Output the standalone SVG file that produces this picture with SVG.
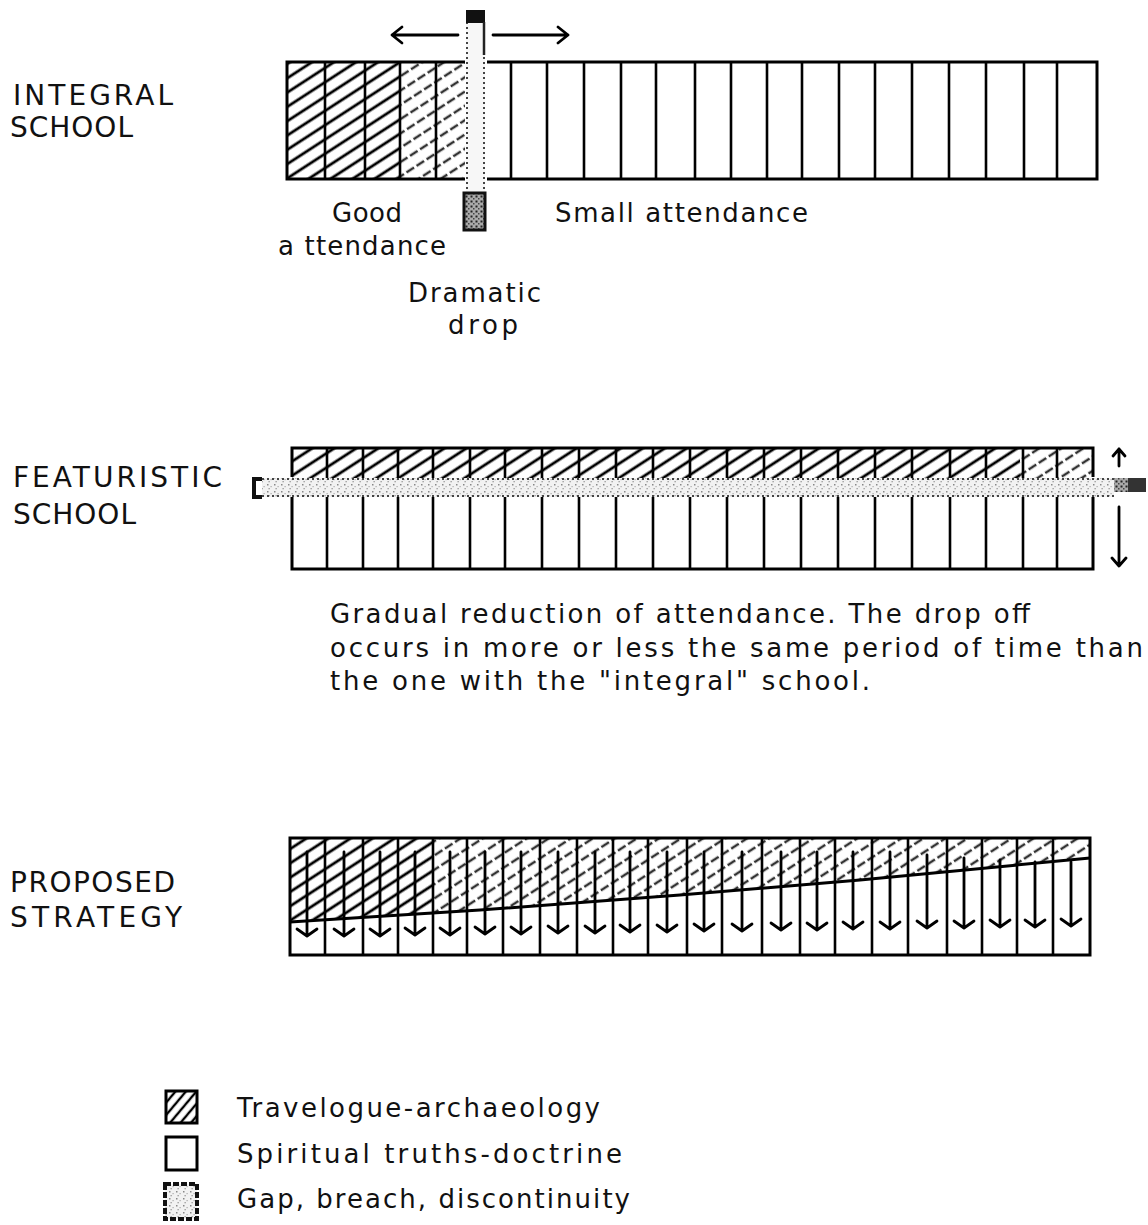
<svg xmlns="http://www.w3.org/2000/svg" width="1148" height="1225" viewBox="0 0 1148 1225">
<defs>
<style>
text{font-family:"DejaVu Sans","Liberation Sans",sans-serif;fill:#111;}
.lbl{font-size:28px;}
.txt{font-size:26px;}
.frame{fill:none;stroke:#000;stroke-width:3;}
.div{stroke:#000;stroke-width:2.6;fill:none;}
.dot{stroke:#444;stroke-width:2;stroke-dasharray:2 3;fill:none;}
.arr{stroke:#000;stroke-width:2.8;fill:none;stroke-linecap:round;stroke-linejoin:round;}
</style>
<pattern id="hatch" patternUnits="userSpaceOnUse" width="12" height="12" patternTransform="rotate(-33)">
<line x1="-1" y1="6" x2="13" y2="6" stroke="#000" stroke-width="2.8"/>
</pattern>
<pattern id="hatchFaint" patternUnits="userSpaceOnUse" width="12" height="12" patternTransform="rotate(-33)">
<line x1="-1" y1="6" x2="13" y2="6" stroke="#333" stroke-width="2.4" stroke-dasharray="5 3"/>
</pattern>
<pattern id="hatchLegend" patternUnits="userSpaceOnUse" width="8" height="8" patternTransform="rotate(-50)">
<line x1="-1" y1="4" x2="9" y2="4" stroke="#000" stroke-width="2.4"/>
</pattern>
<pattern id="speckle" patternUnits="userSpaceOnUse" width="7" height="7">
<rect width="7" height="7" fill="#f2f2f2"/>
<rect x="1" y="1" width="1.5" height="1.5" fill="#888"/>
<rect x="4.5" y="3" width="1.2" height="1.2" fill="#aaa"/>
<rect x="2.5" y="5" width="1.3" height="1.3" fill="#999"/>
</pattern>
<pattern id="speckleDark" patternUnits="userSpaceOnUse" width="5" height="5">
<rect width="5" height="5" fill="#aaa"/>
<rect x="0.5" y="0.5" width="2" height="2" fill="#222"/>
<rect x="3" y="3" width="1.5" height="1.5" fill="#444"/>
</pattern>
</defs>

<!-- INTEGRAL SCHOOL -->
<g id="integral-school">
<text class="lbl" x="13" y="105" textLength="160" lengthAdjust="spacing">INTEGRAL</text>
<text class="lbl" x="10" y="137" textLength="123" lengthAdjust="spacing">SCHOOL</text>
<rect x="287" y="62" width="113" height="117" fill="url(#hatch)"/>
<rect x="400" y="62" width="65" height="117" fill="url(#hatchFaint)"/>
<path class="frame" d="M465,62 H287 V179 H465 M487,62 H1097 V179 H487"/>
<path class="div" d="M325,62V179 M365,62V179 M400,62V179 M436,62V179 M511,62V179 M547,62V179 M584,62V179 M621,62V179 M656,62V179 M695,62V179 M731,62V179 M767,62V179 M802,62V179 M839,62V179 M875,62V179 M912,62V179 M949,62V179 M986,62V179 M1024,62V179 M1057,62V179"/>
<text class="txt" x="332" y="222" textLength="70" lengthAdjust="spacing">Good</text>
<text class="txt" x="278" y="255" textLength="168" lengthAdjust="spacing">a ttendance</text>
<text class="txt" x="555" y="222" textLength="253" lengthAdjust="spacing">Small attendance</text>
<text class="txt" x="408" y="302" textLength="133" lengthAdjust="spacing">Dramatic</text>
<text class="txt" x="448" y="334" textLength="70" lengthAdjust="spacing">drop</text>
</g>

<!-- Gap bar of integral school -->
<g id="integral-gap">
<rect x="466" y="12" width="19" height="216" fill="#f7f7f7"/>
<path class="dot" d="M467,22V200 M484,22V200"/>
<rect x="466" y="10" width="19" height="13" fill="#111"/>
<path d="M484,22V55" stroke="#222" stroke-width="2.5"/>
<rect x="464" y="193" width="21" height="37" fill="url(#speckleDark)" stroke="#111" stroke-width="3"/>
</g>

<!-- FEATURISTIC SCHOOL -->
<g id="featuristic-school">
<text class="lbl" x="13" y="487" textLength="209" lengthAdjust="spacing">FEATURISTIC</text>
<text class="lbl" x="13" y="524" textLength="123" lengthAdjust="spacing">SCHOOL</text>
<rect x="292" y="448" width="728" height="30" fill="url(#hatch)"/>
<rect x="1020" y="448" width="73" height="30" fill="url(#hatchFaint)"/>
<path class="frame" d="M292,477 V448 H1093 V477 M292,497 V569 H1093 V497"/>
<path class="div" d="M327,448V569 M363,448V569 M398,448V569 M433,448V569 M470,448V569 M505,448V569 M542,448V569 M579,448V569 M616,448V569 M653,448V569 M690,448V569 M727,448V569 M764,448V569 M801,448V569 M838,448V569 M875,448V569 M912,448V569 M950,448V569 M986,448V569 M1023,448V569 M1057,448V569"/>
<text class="txt" x="330" y="623" textLength="700" lengthAdjust="spacing">Gradual reduction of attendance. The drop off</text>
<text class="txt" x="330" y="657" textLength="813" lengthAdjust="spacing">occurs in more or less the same period of time than</text>
<text class="txt" x="330" y="690" textLength="540" lengthAdjust="spacing">the one with the "integral" school.</text>
</g>

<!-- Gap band of featuristic school -->
<g id="featuristic-gap">
<rect x="262" y="478" width="852" height="19" fill="url(#speckle)"/>
<path class="dot" d="M262,479H1114 M262,496H1114"/>
<path d="M262,479 H254 V497 H262" fill="none" stroke="#111" stroke-width="4"/>
<rect x="1114" y="478" width="32" height="14" fill="url(#speckleDark)"/>
<rect x="1128" y="478" width="18" height="14" fill="#333"/>
</g>

<!-- PROPOSED STRATEGY -->
<g id="proposed-strategy">
<text class="lbl" x="10" y="892" textLength="165" lengthAdjust="spacing">PROPOSED</text>
<text class="lbl" x="10" y="927" textLength="172" lengthAdjust="spacing">STRATEGY</text>
<clipPath id="upperStrong"><path d="M290,838 H433 V914 L290,922 Z"/></clipPath>
<clipPath id="upperFaint"><path d="M433,838 H1090 V858 L860,880 L680,895 L480,910 L433,914 Z"/></clipPath>
<rect x="290" y="838" width="143" height="90" fill="url(#hatch)" clip-path="url(#upperStrong)"/>
<rect x="433" y="838" width="657" height="80" fill="url(#hatchFaint)" clip-path="url(#upperFaint)"/>
<rect class="frame" x="290" y="838" width="800" height="117"/>
<path class="div" d="M325,838V955 M363,838V955 M398,838V955 M433,838V955 M467,838V955 M503,838V955 M540,838V955 M577,838V955 M613,838V955 M648,838V955 M687,838V955 M722,838V955 M762,838V955 M800,838V955 M835,838V955 M872,838V955 M908,838V955 M947,838V955 M982,838V955 M1017,838V955 M1053,838V955"/>
<path d="M290,922 L480,910 L680,895 L860,880 L1090,858" fill="none" stroke="#000" stroke-width="3"/>
</g>

<!-- Connectors / arrows -->
<g id="connectors">
<path class="arr" d="M458,35 H392 M402,27 L392,35 L402,43"/>
<path class="arr" d="M493,35 H568 M558,27 L568,35 L558,43"/>
<path class="arr" d="M1119,466 V449 M1113,456 L1119,449 L1125,456"/>
<path class="arr" d="M1119,507 V566 M1112,558 L1119,566 L1126,558"/>
<g class="arr">
<path d="M307,852V936 M297,929L307,936L317,929"/>
<path d="M344,852V936 M334,929L344,936L354,929"/>
<path d="M380,852V936 M370,929L380,936L390,929"/>
<path d="M415,852V935 M405,928L415,935L425,928"/>
<path d="M450,852V935 M440,928L450,935L460,928"/>
<path d="M485,852V934 M475,927L485,934L495,927"/>
<path d="M521,852V934 M511,927L521,934L531,927"/>
<path d="M558,852V933 M548,926L558,933L568,926"/>
<path d="M595,852V933 M585,926L595,933L605,926"/>
<path d="M630,852V932 M620,925L630,932L640,925"/>
<path d="M667,852V932 M657,925L667,932L677,925"/>
<path d="M704,852V931 M694,924L704,931L714,924"/>
<path d="M742,852V931 M732,924L742,931L752,924"/>
<path d="M781,852V930 M771,923L781,930L791,923"/>
<path d="M817,852V930 M807,923L817,930L827,923"/>
<path d="M853,852V929 M843,922L853,929L863,922"/>
<path d="M890,852V929 M880,922L890,929L900,922"/>
<path d="M927,855V928 M917,921L927,928L937,921"/>
<path d="M964,858V928 M954,921L964,928L974,921"/>
<path d="M1000,860V927 M990,920L1000,927L1010,920"/>
<path d="M1035,862V927 M1025,920L1035,927L1045,920"/>
<path d="M1071,862V926 M1061,919L1071,926L1081,919"/>
</g>
</g>

<!-- Legend -->
<g id="legend">
<rect x="166" y="1091" width="31" height="32" fill="url(#hatchLegend)" stroke="#000" stroke-width="3"/>
<text class="txt" x="237" y="1117" textLength="363" lengthAdjust="spacing">Travelogue-archaeology</text>
<rect x="166" y="1137" width="31" height="33" fill="#fff" stroke="#000" stroke-width="3"/>
<text class="txt" x="237" y="1163" textLength="385" lengthAdjust="spacing">Spiritual truths-doctrine</text>
<rect x="165" y="1184" width="32" height="35" fill="url(#speckle)" stroke="#111" stroke-width="4" stroke-dasharray="6 2"/>
<text class="txt" x="237" y="1208" textLength="393" lengthAdjust="spacing">Gap, breach, discontinuity</text>
</g>
</svg>
